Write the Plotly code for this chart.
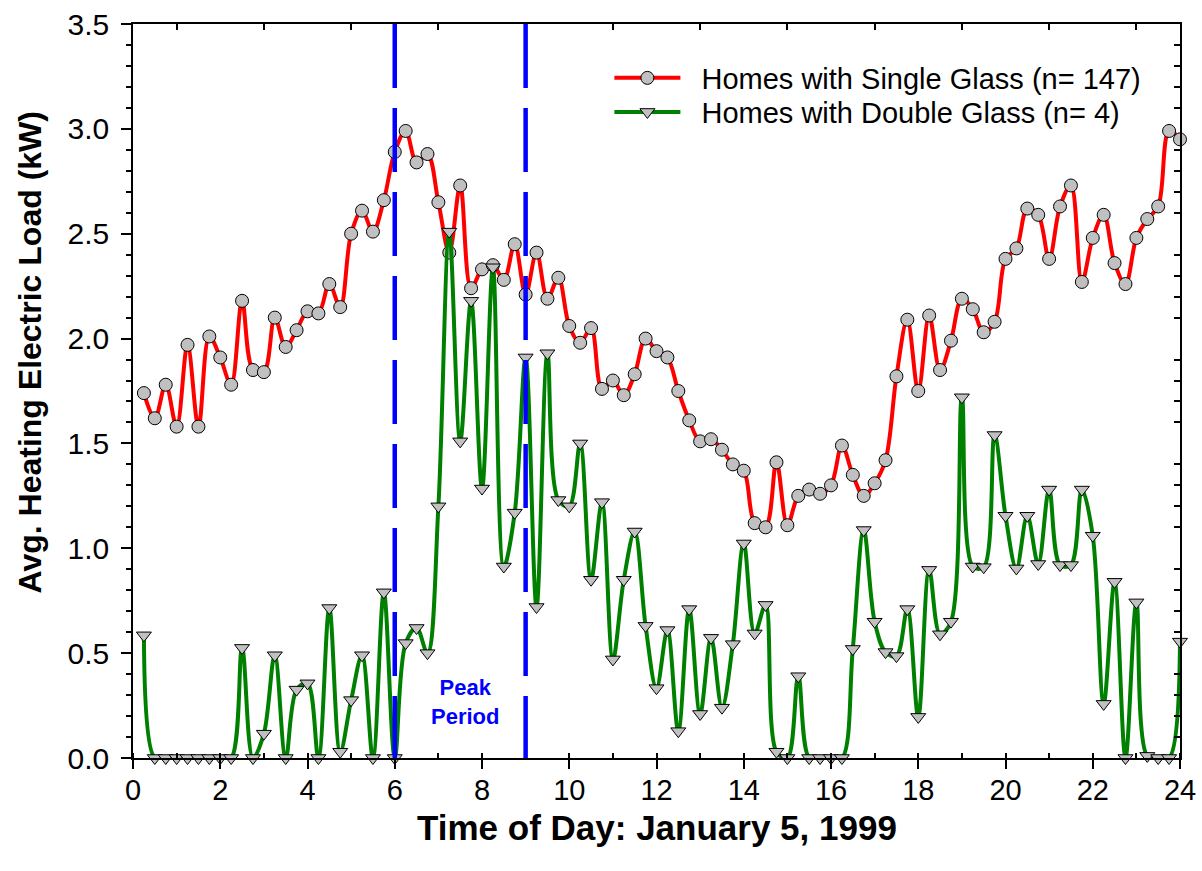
import plotly.graph_objects as go

# ---------------- data ----------------
# 15-minute readings, 0:15 ... 24:00
hours = [0.25 * (i + 1) for i in range(96)]

single_glass = [
    1.74, 1.62, 1.78, 1.58, 1.97, 1.58, 2.01, 1.91, 1.78, 2.18, 1.85, 1.84, 2.10, 1.96, 2.04, 2.13,
    2.12, 2.26, 2.15, 2.50, 2.61, 2.51, 2.66, 2.89, 2.99, 2.84, 2.88, 2.65, 2.41, 2.73, 2.24, 2.33,
    2.35, 2.28, 2.45, 2.21, 2.41, 2.19, 2.29, 2.06, 1.98, 2.05, 1.76, 1.80, 1.73, 1.83, 2.00, 1.94,
    1.91, 1.75, 1.61, 1.51, 1.52, 1.47, 1.40, 1.37, 1.12, 1.10, 1.41, 1.11, 1.25, 1.28, 1.26, 1.30,
    1.49, 1.35, 1.25, 1.31, 1.42, 1.82, 2.09, 1.75, 2.11, 1.85, 1.99, 2.19, 2.14, 2.03, 2.08, 2.38,
    2.43, 2.62, 2.59, 2.38, 2.63, 2.73, 2.27, 2.48, 2.59, 2.36, 2.26, 2.48, 2.57, 2.63, 2.99, 2.95,
]

double_glass = [
    0.585, 0, 0, 0, 0, 0, 0, 0, 0, 0.525, 0, 0.116, 0.49, 0, 0.326, 0.356,
    0, 0.715, 0.03, 0.276, 0.49, 0, 0.79, 0, 0.548, 0.62, 0.50, 1.20, 2.51, 1.51, 2.18, 1.285,
    2.34, 0.913, 1.17, 1.91, 0.72, 1.93, 1.23, 1.20, 1.50, 0.85, 1.22, 0.47, 0.85, 1.08, 0.63, 0.333,
    0.61, 0.128, 0.71, 0.21, 0.573, 0.24, 0.543, 1.023, 0.594, 0.73, 0.03, 0, 0.39, 0, 0, 0,
    0, 0.52, 1.087, 0.65, 0.505, 0.486, 0.71, 0.196, 0.897, 0.59, 0.65, 1.72, 0.913, 0.91, 1.54, 1.155,
    0.904, 1.155, 0.925, 1.28, 0.92, 0.92, 1.28, 1.06, 0.258, 0.84, 0, 0.742, 0.01, 0, 0, 0.555,
]

series_names = ["Homes with Single Glass (n= 147)", "Homes with Double Glass (n= 4)"]
peak_bounds = [6, 9]
peak_label = "Peak<br>Period"
x_title = "Time of Day: January 5, 1999"
y_title = "Avg. Heating Electric Load (kW)"
X_RANGE = [0, 24]
Y_RANGE = [0, 3.5]
x_top_ticks = [1, 3, 5, 7, 9, 11, 13, 15, 17, 19, 21, 23]
y_right_ticks = [round(0.1 * k, 1) for k in range(1, 35) if k % 5 != 0]

FONT = "Liberation Sans, Arial, Helvetica, sans-serif"
NBSP = "\u00a0"

fig = go.Figure()
fig.add_trace(go.Scatter(
    x=hours, y=single_glass, name=NBSP * 2 + series_names[0], mode="lines+markers",
    line=dict(color="#FF0000", width=4, shape="spline", smoothing=1.0),
    marker=dict(symbol="circle", size=13, color="#C0C0C0", line=dict(color="black", width=1)),
    cliponaxis=False, legend="legend",
))
fig.add_trace(go.Scatter(
    x=hours, y=double_glass, name=NBSP * 2 + series_names[1], mode="lines+markers",
    line=dict(color="#008000", width=4, shape="spline", smoothing=1.0),
    marker=dict(symbol="triangle-down", size=13, color="#C0C0C0", line=dict(color="black", width=1)),
    cliponaxis=False, legend="legend2",
))
# empty trace to activate the frame axes (top / right)
fig.add_trace(go.Scatter(x=[], y=[], xaxis="x2", yaxis="y2", showlegend=False, hoverinfo="skip"))

for b in peak_bounds:
    fig.add_shape(type="line", xref="x", yref="y", x0=b, x1=b, y0=Y_RANGE[1], y1=Y_RANGE[0],
                  line=dict(color="#0000FF", width=4.5, dash="64px,20px"), layer="above")

fig.add_annotation(x=7.62, y=0.265, xref="x", yref="y", text="<b>" + peak_label + "</b>",
                   showarrow=False, font=dict(family=FONT, size=22, color="#0000FF"))
fig.add_annotation(x=0.5, y=-0.095, xref="paper", yref="paper", text="<b>" + x_title + "</b>",
                   showarrow=False, font=dict(family=FONT, size=35, color="black"),
                   xanchor="center", yanchor="middle")
fig.add_annotation(x=-0.0987, y=0.552, xref="paper", yref="paper", text="<b>" + y_title + "</b>",
                   showarrow=False, textangle=-90, font=dict(family=FONT, size=32, color="black"),
                   xanchor="center", yanchor="middle")

axis_common = dict(showgrid=False, zeroline=False, showline=True, linecolor="black",
                   linewidth=1.5, automargin=False)
legend_common = dict(xanchor="left", yanchor="middle", bgcolor="rgba(0,0,0,0)",
                     font=dict(family=FONT, size=29, color="black"), itemwidth=66)

fig.update_layout(
    width=1202, height=871,
    margin=dict(l=133, r=22, t=24, b=113),
    paper_bgcolor="white", plot_bgcolor="white",
    font=dict(family=FONT, color="black"),
    showlegend=True,
    legend=dict(x=0.455, y=0.9264, **legend_common),
    legend2=dict(x=0.455, y=0.880, **legend_common),
    xaxis=dict(range=X_RANGE, tick0=0, dtick=2, ticks="outside", ticklen=9, tickwidth=1.5,
               tickcolor="black", tickfont=dict(family=FONT, size=29, color="black"),
               ticklabelstandoff=-4,
               minor=dict(dtick=1, tick0=0, ticks="inside", ticklen=5, tickwidth=1.5, tickcolor="black"),
               **axis_common),
    yaxis=dict(range=Y_RANGE, tick0=0, dtick=0.5, tickformat=".1f", ticks="outside", ticklen=10,
               tickwidth=1.5, tickcolor="black", tickfont=dict(family=FONT, size=30, color="black"),
               ticklabelstandoff=6,
               minor=dict(dtick=0.1, tick0=0, ticks="outside", ticklen=5, tickwidth=1.5, tickcolor="black"),
               **axis_common),
    xaxis2=dict(range=X_RANGE, overlaying="x", side="top", anchor="y2", tickmode="array",
                tickvals=x_top_ticks, ticks="inside", ticklen=6, tickwidth=1.5, tickcolor="black",
                showticklabels=False, **axis_common),
    yaxis2=dict(range=Y_RANGE, overlaying="y", side="right", anchor="x2", tickmode="array",
                tickvals=y_right_ticks, ticks="inside", ticklen=6, tickwidth=1.5, tickcolor="black",
                showticklabels=False, **axis_common),
)

fig.write_html("out.html")
